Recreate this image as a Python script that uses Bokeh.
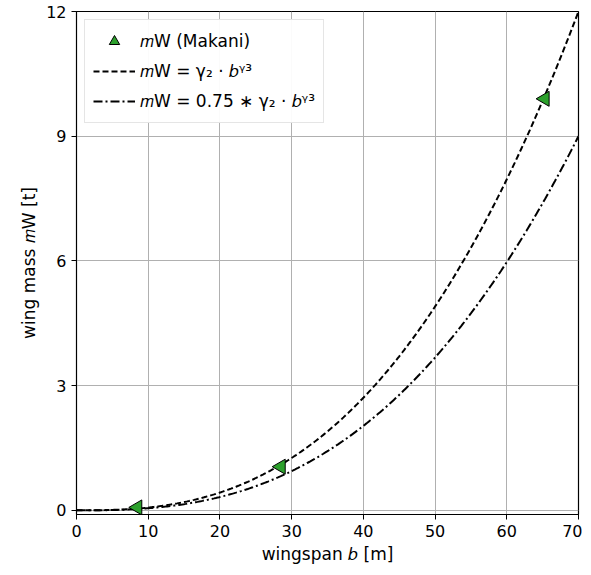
import numpy as np
from bokeh.plotting import figure
from bokeh.models import Range1d, FixedTicker, Legend, LegendItem
from bokeh.embed import file_html
from bokeh.resources import INLINE

span_b = [8.5, 28.5, 65.3]
mass_w = [0.07, 1.05, 9.9]
gamma3 = 2.66
gamma2 = 12.0 / 70 ** gamma3
b_curve = np.linspace(0, 70, 300)
m_curve = gamma2 * b_curve ** gamma3
m_curve2 = 0.75 * m_curve
x_ticks = [0, 10, 20, 30, 40, 50, 60, 70]
y_ticks = [0, 3, 6, 9, 12]

p = figure(width=582, height=566, output_backend="svg", toolbar_location=None,
           x_range=Range1d(0, 70), y_range=Range1d(-0.1, 12),
           min_border_left=76, min_border_right=4, min_border_top=11, min_border_bottom=38)
p.outline_line_color = "black"
p.outline_line_width = 1.2
for ax in (p.xaxis, p.yaxis):
    ax.major_label_text_font_size = "16px"
    ax.major_label_text_color = "black"
    ax.axis_label_text_color = "black"
    ax.axis_label_text_font_size = "17px"
    ax.axis_label_text_font_style = "normal"
    ax.axis_label_text_font = "DejaVu Sans"
    ax.major_label_text_font = "DejaVu Sans"
    ax.minor_tick_line_color = None
    ax.major_tick_out = 5
    ax.major_tick_in = 0
    ax.axis_label_standoff = 4
p.xaxis.ticker = FixedTicker(ticks=x_ticks)
p.yaxis.ticker = FixedTicker(ticks=y_ticks)
p.xaxis.axis_label = "wingspan 𝑏 [m]"
p.yaxis.axis_label = "wing mass 𝑚W [t]"
p.grid.grid_line_color = "#b0b0b0"
p.grid.grid_line_width = 1

r1 = p.line(b_curve, m_curve, line_color="black", line_width=2, line_dash="6 3")
r2 = p.line(b_curve, m_curve2, line_color="black", line_width=2, line_dash="9 3 2 3")
r0 = p.scatter(span_b, mass_w, marker="triangle", angle=np.pi / 2, size=15,
               fill_color="#2ca02c", line_color="black", line_width=1)

legend = Legend(items=[
    LegendItem(label="𝑚W (Makani)", renderers=[r0]),
    LegendItem(label="𝑚W = γ₂ · 𝑏ᵞ³", renderers=[r1]),
    LegendItem(label="𝑚W = 0.75 ∗ γ₂ · 𝑏ᵞ³", renderers=[r2]),
], location="top_left")
legend.label_text_font_size = "17px"
legend.label_text_color = "black"
legend.label_text_font = "DejaVu Sans"
legend.label_height = 26
legend.glyph_height = 26
legend.border_line_color = "#cccccc"
legend.border_line_width = 1
legend.glyph_width = 42
legend.spacing = 4
legend.padding = 8
legend.margin = 8
p.add_layout(legend)

open("out.html", "w").write(file_html(p, INLINE))
